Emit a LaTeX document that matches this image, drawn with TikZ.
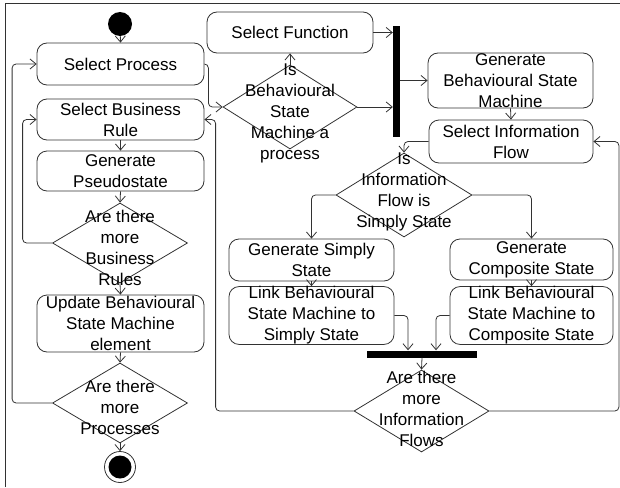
\documentclass[tikz,border=0pt]{standalone}
\usepackage{fontspec}
\setmainfont{Liberation Sans}
\usetikzlibrary{shapes.geometric,arrows.meta}
\definecolor{linec}{RGB}{50,50,50}

\begin{document}
\begin{tikzpicture}[x=1pt,y=-1pt,
  every node/.style={font=\fontsize{17}{21}\selectfont},
  act/.style={draw=linec, rounded corners=10pt, line width=0.8pt, inner sep=0pt, align=center},
  dec/.style={draw=linec, diamond, line width=0.8pt, inner sep=0pt},
  lbl/.style={align=center, inner sep=0pt},
  flow/.style={draw=linec, line width=0.8pt, rounded corners=4pt, -{Straight Barb[length=6pt,width=10pt]}},
  syncbar/.style={fill=black, draw=none, inner sep=0pt}
]
\useasboundingbox (0,0) rectangle (620,487);

% frame
\draw[linec, line width=1pt] (5,487) -- (5,4) -- (620,4);

% left column
\node[circle, fill=black, minimum size=24pt, inner sep=0pt] (init) at (120,24) {};
\node[act, minimum width=167pt, minimum height=42pt] (sp) at (120.5,64) {Select Process};
\node[act, minimum width=167pt, minimum height=41pt] (sbr) at (120.5,119.5) {Select Business\\Rule};
\node[act, minimum width=167pt, minimum height=40pt] (gp) at (120.5,171) {Generate\\Pseudostate};
\node[dec, minimum width=135pt, minimum height=80pt] (d1) at (120,243) {};
\node[lbl] (d1t) at (120,247.5) {Are there\\more\\Business\\Rules};
\node[act, minimum width=167pt, minimum height=57pt] (upd) at (120.5,323.5) {Update Behavioural\\State Machine\\element};
\node[dec, minimum width=135pt, minimum height=80pt] (d2) at (120,403) {};
\node[lbl] (d2t) at (120,407) {Are there\\more\\Processes};
\node[circle, draw=linec, line width=0.8pt, minimum size=31pt, inner sep=0pt] (fin) at (120,467) {};
\fill (fin.center) circle (11.5pt);

% middle and right columns
\node[act, minimum width=166pt, minimum height=41pt] (sf) at (290,32.5) {Select Function};
\node[dec, minimum width=134pt, minimum height=84pt] (d3) at (290,107) {};
\node[lbl] (d3t) at (290,113.5) {Is\\Behavioural\\State\\Machine a\\process};
\node[syncbar, minimum width=7pt, minimum height=111pt] (f1) at (396.5,81.5) {};
\node[act, minimum width=165pt, minimum height=55pt] (gb) at (510.5,80.5) {Generate\\Behavioural State\\Machine};
\node[act, minimum width=164pt, minimum height=43pt] (sif) at (511,141.5) {Select Information\\Flow};
\node[dec, minimum width=136pt, minimum height=84pt] (d4) at (404,195) {};
\node[lbl] (d4t) at (404,191.5) {Is\\Information\\Flow is\\Simply State};
\node[act, minimum width=165pt, minimum height=42pt] (gss) at (311.5,260) {Generate Simply\\State};
\node[act, minimum width=165pt, minimum height=55pt] (lss) at (311.5,315.5) {Link Behavioural\\State Machine to\\Simply State};
\node[act, minimum width=163pt, minimum height=41pt] (gcs) at (531.5,259.5) {Generate\\Composite State};
\node[act, minimum width=163pt, minimum height=55pt] (lcs) at (531.5,315.5) {Link Behavioural\\State Machine to\\Composite State};
\node[syncbar, minimum width=110pt, minimum height=7pt] (j1) at (422,354) {};
\node[dec, minimum width=135pt, minimum height=82pt] (d5) at (421.5,411) {};
\node[lbl] (d5t) at (421.5,408.5) {Are there\\more\\Information\\Flows};

% connectors
\draw[flow] (init) -- (sp.north);
\draw[flow] (sbr.south) -- (gp.north);
\draw[flow] (gp.south) -- (d1.north);
\draw[flow] (d1.south) -- (upd.north);
\draw[flow] (upd.south) -- (d2.north);
\draw[flow] (d2.south) -- (fin.north);
\draw[flow] (d1.west) -- ++(-29.5,0) |- (sbr.west);
\draw[flow] (d2.west) -- ++(-40,0) |- (sp.west);
\draw[flow] (sp.east) -- ++(4,0) |- (d3.west);
\draw[flow] (d3.north) -- (sf.south);
\draw[flow] (sf.east) -- (sf.east -| f1.west);
\draw[flow] (d3.east) -- (d3.east -| f1.west);
\draw[flow] (f1.east |- gb.west) -- (gb.west);
\draw[flow] (gb.south) -- (sif.north);
\draw[flow] (sif.west) -| (d4.north);
\draw[flow] (d4.west) -| (gss.north);
\draw[flow] (d4.east) -| (gcs.north);
\draw[flow] (gss.south) -- (lss.north);
\draw[flow] (gcs.south) -- (lcs.north);
\draw[flow] (lss.east) -| ([xshift=-14pt]j1.north);
\draw[flow] (lcs.west) -| ([xshift=14pt]j1.north);
\draw[flow] (j1.south) -- (d5.north);
\draw[flow] (d5.west) -- ++(-138,0) |- (sbr.east);
\draw[flow] (d5.east) -- ++(129.5,0) |- (sif.east);
\end{tikzpicture}
\end{document}
